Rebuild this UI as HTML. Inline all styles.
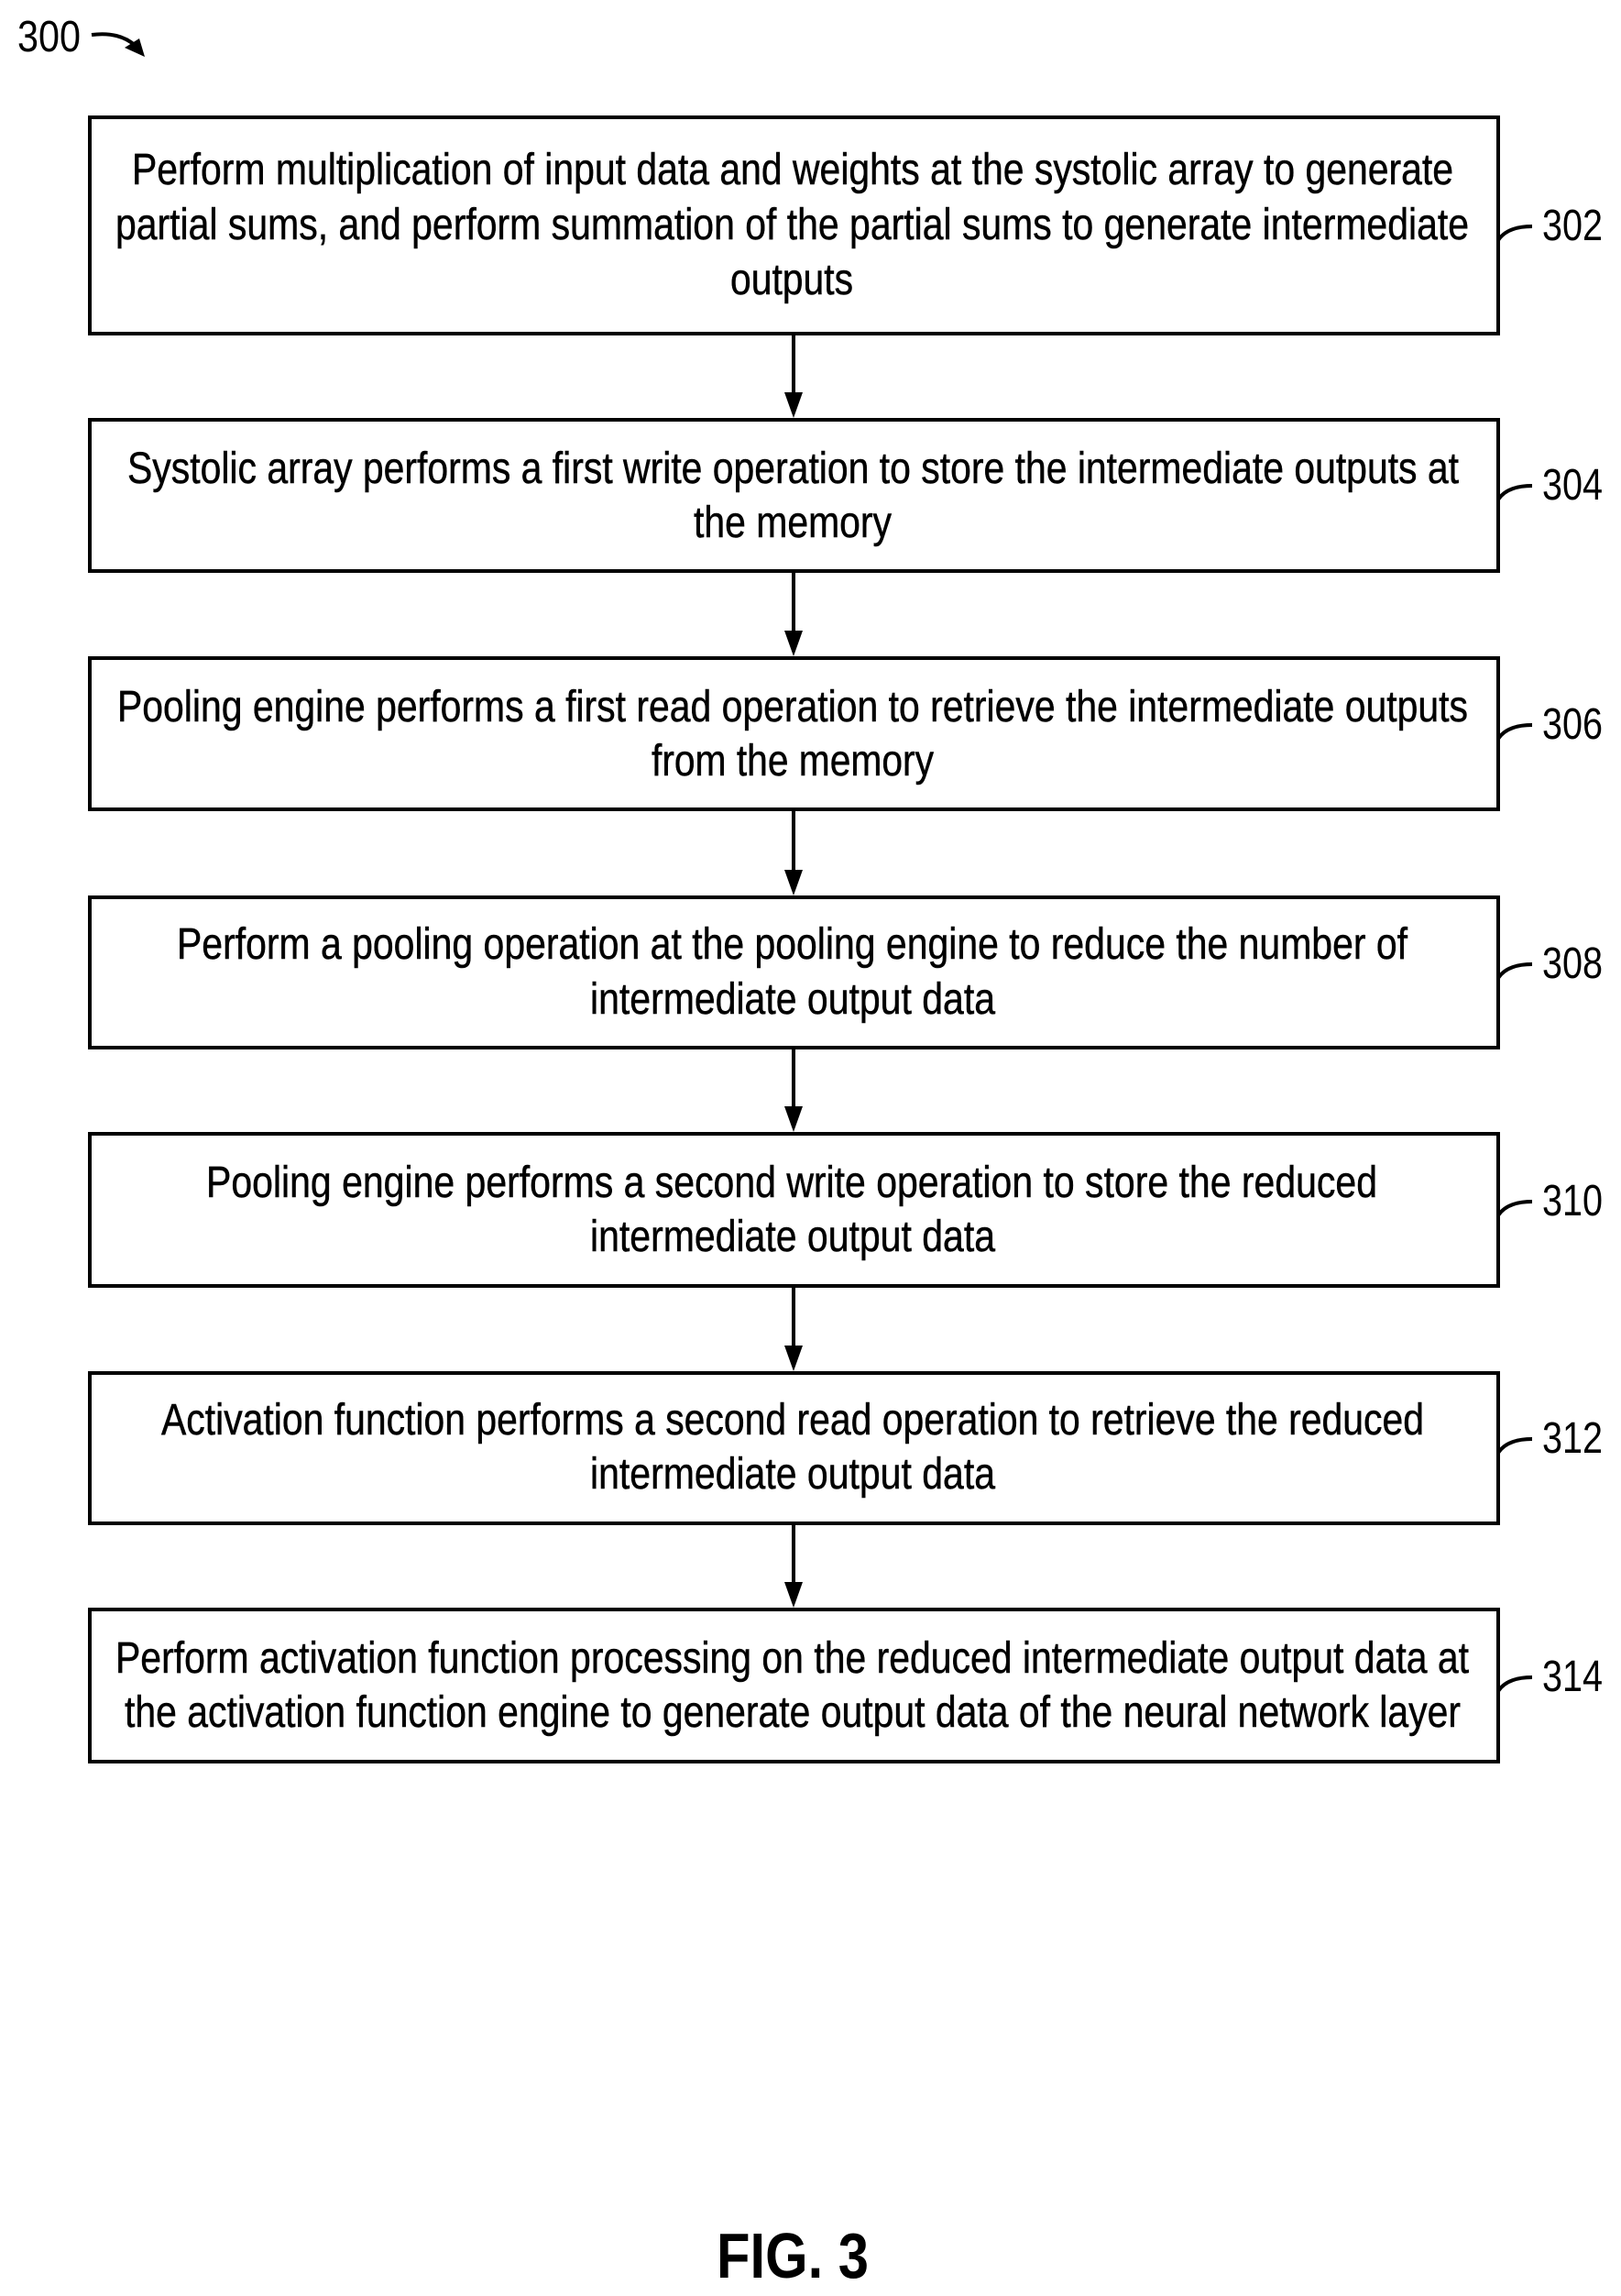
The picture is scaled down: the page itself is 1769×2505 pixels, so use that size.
<!DOCTYPE html>
<html><head><meta charset="utf-8"><style>
html,body{margin:0;padding:0;background:#fff;}
svg{display:block;}
text{font-family:"Liberation Sans",Arial,sans-serif;fill:#000;}
</style></head><body>
<svg width="1769" height="2505" viewBox="0 0 1769 2505" xmlns="http://www.w3.org/2000/svg">
<g font-size="48">
<text x="19" y="56" textLength="69" lengthAdjust="spacingAndGlyphs">300</text>
</g>
<path d="M100 38 Q130 34 148 50" fill="none" stroke="#000" stroke-width="4"/>
<polygon points="158,62 136,52 152,42" fill="#000"/>

<g fill="none" stroke="#000" stroke-width="4">
<rect x="98" y="128" width="1537" height="236"/>
<rect x="98" y="458" width="1537" height="165"/>
<rect x="98" y="718" width="1537" height="165"/>
<rect x="98" y="979" width="1537" height="164"/>
<rect x="98" y="1237" width="1537" height="166"/>
<rect x="98" y="1498" width="1537" height="164"/>
<rect x="98" y="1756" width="1537" height="166"/>
<line x1="866" y1="364" x2="866" y2="430"/>
<line x1="866" y1="623" x2="866" y2="690"/>
<line x1="866" y1="883" x2="866" y2="951"/>
<line x1="866" y1="1143" x2="866" y2="1209"/>
<line x1="866" y1="1403" x2="866" y2="1470"/>
<line x1="866" y1="1662" x2="866" y2="1728"/>
<path d="M1635 262 Q1645 247 1672 247"/>
<path d="M1635 545 Q1645 530 1672 530"/>
<path d="M1635 806 Q1645 791 1672 791"/>
<path d="M1635 1067 Q1645 1052 1672 1052"/>
<path d="M1635 1326 Q1645 1311 1672 1311"/>
<path d="M1635 1585 Q1645 1570 1672 1570"/>
<path d="M1635 1845 Q1645 1830 1672 1830"/>
</g>
<g fill="#000">
<polygon points="856,428 876,428 866,456"/>
<polygon points="856,688 876,688 866,716"/>
<polygon points="856,949 876,949 866,977"/>
<polygon points="856,1207 876,1207 866,1235"/>
<polygon points="856,1468 876,1468 866,1496"/>
<polygon points="856,1726 876,1726 866,1754"/>
</g>

<g font-size="48">
<text x="1683" y="262" textLength="66" lengthAdjust="spacingAndGlyphs">302</text>
<text x="1683" y="545" textLength="66" lengthAdjust="spacingAndGlyphs">304</text>
<text x="1683" y="806" textLength="66" lengthAdjust="spacingAndGlyphs">306</text>
<text x="1683" y="1067" textLength="66" lengthAdjust="spacingAndGlyphs">308</text>
<text x="1683" y="1326" textLength="66" lengthAdjust="spacingAndGlyphs">310</text>
<text x="1683" y="1585" textLength="66" lengthAdjust="spacingAndGlyphs">312</text>
<text x="1683" y="1845" textLength="66" lengthAdjust="spacingAndGlyphs">314</text>
</g>

<g font-size="48" stroke="#000" stroke-width="0.5">
<text x="144" y="201" textLength="1442" lengthAdjust="spacingAndGlyphs">Perform multiplication of input data and weights at the systolic array to generate</text>
<text x="126" y="261" textLength="1477" lengthAdjust="spacingAndGlyphs">partial sums, and perform summation of the partial sums to generate intermediate</text>
<text x="797" y="321" textLength="134" lengthAdjust="spacingAndGlyphs">outputs</text>

<text x="139" y="527" textLength="1453" lengthAdjust="spacingAndGlyphs">Systolic array performs a first write operation to store the intermediate outputs at</text>
<text x="757" y="586" textLength="216" lengthAdjust="spacingAndGlyphs">the memory</text>

<text x="128" y="787" textLength="1474" lengthAdjust="spacingAndGlyphs">Pooling engine performs a first read operation to retrieve the intermediate outputs</text>
<text x="711" y="846" textLength="308" lengthAdjust="spacingAndGlyphs">from the memory</text>

<text x="193" y="1046" textLength="1343" lengthAdjust="spacingAndGlyphs">Perform a pooling operation at the pooling engine to reduce the number of</text>
<text x="644" y="1106" textLength="442" lengthAdjust="spacingAndGlyphs">intermediate output data</text>

<text x="225" y="1306" textLength="1278" lengthAdjust="spacingAndGlyphs">Pooling engine performs a second write operation to store the reduced</text>
<text x="644" y="1365" textLength="442" lengthAdjust="spacingAndGlyphs">intermediate output data</text>

<text x="176" y="1565" textLength="1378" lengthAdjust="spacingAndGlyphs">Activation function performs a second read operation to retrieve the reduced</text>
<text x="644" y="1624" textLength="442" lengthAdjust="spacingAndGlyphs">intermediate output data</text>

<text x="126" y="1825" textLength="1477" lengthAdjust="spacingAndGlyphs">Perform activation function processing on the reduced intermediate output data at</text>
<text x="136" y="1884" textLength="1458" lengthAdjust="spacingAndGlyphs">the activation function engine to generate output data of the neural network layer</text>
</g>

<text x="782" y="2485" font-size="70" font-weight="bold" textLength="166" lengthAdjust="spacingAndGlyphs">FIG. 3</text>
</svg>
</body></html>
